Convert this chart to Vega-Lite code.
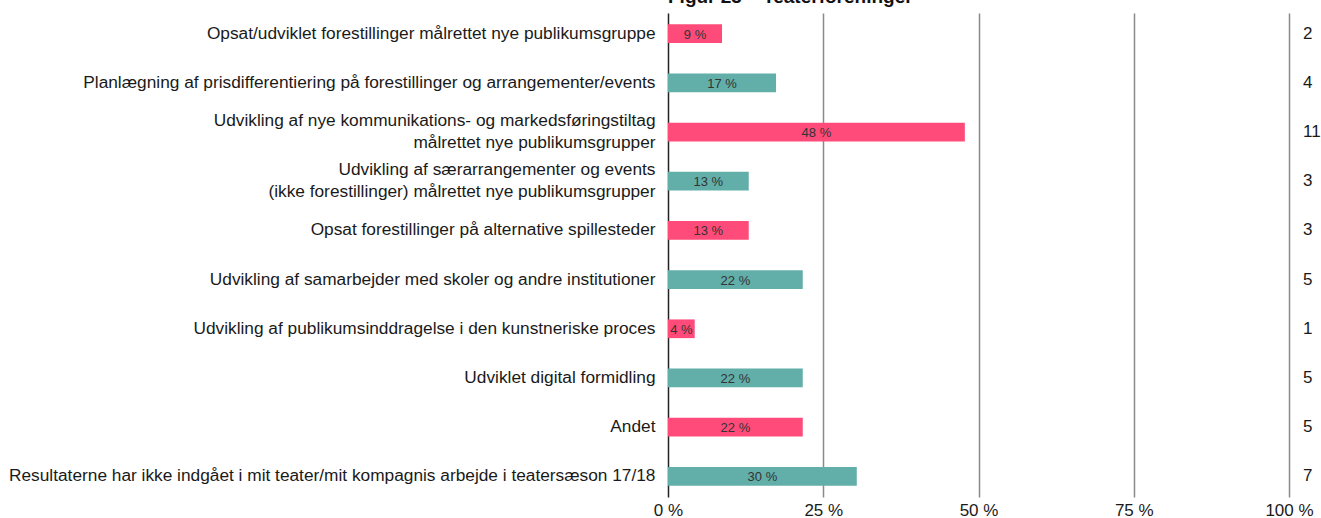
{
  "$schema": "https://vega.github.io/schema/vega-lite/v6.json",
  "width": 621,
  "height": 484,
  "autosize": {"type": "none"},
  "padding": {"left": 668, "top": 13, "right": 32, "bottom": 21},
  "background": "white",
  "config": {"font": "Liberation Sans", "view": {"stroke": null}},
  "title": {
    "text": "Figur 23 – Teaterforeninger",
    "anchor": "start",
    "frame": "group",
    "orient": "top",
    "baseline": "alphabetic",
    "offset": 6,
    "dy": 15,
    "fontSize": 19,
    "fontWeight": "bold",
    "color": "#111"
  },
  "data": {
    "values": [
      {"label": "Opsat/udviklet forestillinger målrettet nye publikumsgruppe", "pct": 8.7, "txt": "9 %", "n": 2, "grp": "A"},
      {"label": "Planlægning af prisdifferentiering på forestillinger og arrangementer/events", "pct": 17.4, "txt": "17 %", "n": 4, "grp": "B"},
      {"label": "Udvikling af nye kommunikations- og markedsføringstiltag|målrettet nye publikumsgrupper", "pct": 47.8, "txt": "48 %", "n": 11, "grp": "A"},
      {"label": "Udvikling af særarrangementer og events|(ikke forestillinger) målrettet nye publikumsgrupper", "pct": 13.0, "txt": "13 %", "n": 3, "grp": "B"},
      {"label": "Opsat forestillinger på alternative spillesteder", "pct": 13.0, "txt": "13 %", "n": 3, "grp": "A"},
      {"label": "Udvikling af samarbejder med skoler og andre institutioner", "pct": 21.7, "txt": "22 %", "n": 5, "grp": "B"},
      {"label": "Udvikling af publikumsinddragelse i den kunstneriske proces", "pct": 4.3, "txt": "4 %", "n": 1, "grp": "A"},
      {"label": "Udviklet digital formidling", "pct": 21.7, "txt": "22 %", "n": 5, "grp": "B"},
      {"label": "Andet", "pct": 21.7, "txt": "22 %", "n": 5, "grp": "A"},
      {"label": "Resultaterne har ikke indgået i mit teater/mit kompagnis arbejde i teatersæson 17/18", "pct": 30.4, "txt": "30 %", "n": 7, "grp": "B"}
    ]
  },
  "transform": [{"calculate": "datum.pct / 2", "as": "mid"}],
  "encoding": {
    "y": {
      "field": "label",
      "type": "nominal",
      "sort": null,
      "scale": {"paddingInner": 0.62, "paddingOuter": 0.23},
      "axis": {
        "title": null,
        "domain": false,
        "ticks": false,
        "grid": false,
        "labelExpr": "split(datum.label, '|')",
        "labelFontSize": 17.3,
        "labelColor": "#1a1a1a",
        "labelPadding": 13,
        "labelLimit": 800,
        "labelLineHeight": 22,
        "labelOffset": {"condition": {"test": "indexof(datum.value, '|') >= 0", "value": -11}, "value": 0}
      }
    }
  },
  "layer": [
    {
      "mark": {"type": "bar"},
      "encoding": {
        "x": {
          "field": "pct",
          "type": "quantitative",
          "scale": {"domain": [0, 100], "nice": false},
          "axis": {
            "title": null,
            "values": [0, 25, 50, 75, 100],
            "labelExpr": "datum.value + ' %'",
            "domain": false,
            "ticks": false,
            "grid": true,
            "gridColor": {"condition": {"test": "datum.value === 0", "value": "#222"}, "value": "#8a8a8a"},
            "gridWidth": 1.5,
            "gridOpacity": 1,
            "labelFontSize": 17,
            "labelColor": "#1a1a1a",
            "labelPadding": 5,
            "labelFlush": false
          }
        },
        "color": {
          "field": "grp",
          "type": "nominal",
          "scale": {"domain": ["A", "B"], "range": ["#ff4b79", "#62aea9"]},
          "legend": null
        }
      }
    },
    {
      "mark": {"type": "text", "align": "center", "baseline": "middle", "fontSize": 13, "color": "#333", "dy": 1},
      "encoding": {
        "x": {"field": "mid", "type": "quantitative"},
        "text": {"field": "txt"}
      }
    },
    {
      "mark": {"type": "text", "align": "left", "baseline": "middle", "fontSize": 17, "color": "#1a1a1a", "dx": 14},
      "encoding": {
        "x": {"datum": 100, "type": "quantitative"},
        "text": {"field": "n"}
      }
    }
  ]
}
